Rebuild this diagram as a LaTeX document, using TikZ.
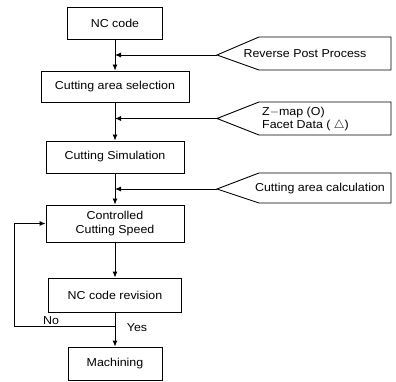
\documentclass[tikz,border=0pt]{standalone}
\usepackage{fontspec}
\setmainfont{Liberation Sans}[FakeStretch=1.08]
\usetikzlibrary{arrows.meta}
\begin{document}
\begin{tikzpicture}[x=1pt,y=-1pt,
  box/.style={draw, line width=0.9pt, inner sep=0pt, align=center, font=\fontsize{11.5}{14}\selectfont},
  lbl/.style={inner sep=0pt, font=\fontsize{11.5}{13}\selectfont},
  flow/.style={line width=0.9pt, -{Latex[length=6pt,width=5pt]}},
  tag/.style={draw, line width=0.9pt, line join=miter}]
\useasboundingbox (0,0) rectangle (396,382);
% main boxes
\node[box, minimum width=95pt, minimum height=32pt] (nc) at (115,23) {NC code};
\node[box, minimum width=148pt, minimum height=31pt] (sel) at (115,86.5) {Cutting area selection};
\node[box, minimum width=138pt, minimum height=32pt] (sim) at (115,157) {Cutting Simulation};
\node[box, minimum width=138pt, minimum height=37pt] (ccs) at (115,223.5) {Controlled\\Cutting Speed};
\node[box, minimum width=133pt, minimum height=34pt] (rev) at (115,295) {NC code revision};
\node[box, minimum width=94pt, minimum height=33pt] (mac) at (115,363.5) {Machining};
% main flow
\draw[flow] (nc) -- (sel);
\draw[flow] (sel) -- (sim);
\draw[flow] (sim) -- (ccs);
\draw[flow] (ccs) -- (rev);
\draw[flow] (rev) -- (mac);
% input tags
\coordinate (t1) at (217,55);
\draw[tag] (t1) -- (259,37) -- (391,37) -- (391,70) -- (259,70) -- cycle;
\node[lbl] (l1) at (305,54) {Reverse Post Process};
\coordinate (t2) at (217,118.5);
\draw[tag] (t2) -- (259,102) -- (391,102) -- (391,135) -- (259,135) -- cycle;
\node[lbl, anchor=west, align=left] (l2) at (262,119) {Z$-$map (O)\\Facet Data ( $\triangle$)};
\coordinate (t3) at (217,189);
\draw[tag] (t3) -- (259,173) -- (391,173) -- (391,203) -- (259,203) -- cycle;
\node[lbl] (l3) at (320,189) {Cutting area calculation};
\draw[flow] (t1) -- (t1 -| nc.south);
\draw[flow] (t2) -- (t2 -| nc.south);
\draw[flow] (t3) -- (t3 -| nc.south);
% feedback
\coordinate (j) at (115,326);
\coordinate (fb) at (14,326);
\draw[flow] (j) -- (fb) |- (ccs.west);
\node[lbl] (no) at (51,321) {No};
\node[lbl] (yes) at (137,328) {Yes};
\end{tikzpicture}
\end{document}
